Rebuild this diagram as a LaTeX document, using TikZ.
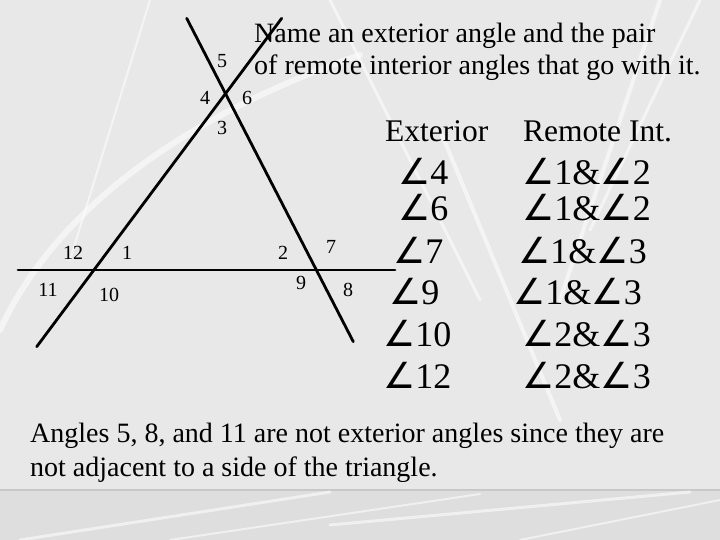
\documentclass[tikz,border=0pt]{standalone}
\usepackage{fontspec}
\setmainfont{Liberation Serif}
\newfontfamily\slidefont{Liberation Serif}
\newfontfamily\angfont{DejaVu Sans}
\usepackage{xcolor}
\usepackage{tikz}

\newcommand{\ang}{{\angfont\char"2220}}

\begin{document}
\begin{tikzpicture}[x=1pt,y=-1pt,
  lbl/.style={font=\slidefont\fontsize{20}{24}\selectfont,inner sep=0pt},
  txt/.style={font=\slidefont\fontsize{28}{32}\selectfont,inner sep=0pt,anchor=base west},
  colhead/.style={font=\slidefont\fontsize{31.5}{36}\selectfont,inner sep=0pt,anchor=base west},
  angtxt/.style={font=\slidefont\fontsize{36}{40}\selectfont,inner sep=0pt,anchor=base west},
  streak/.style={white,opacity=0.55,line cap=round},
  trans/.style={line width=2.8pt,line cap=round}]
% Define colors
\definecolor{slidebg}{RGB}{232,232,232}
\definecolor{bandbg}{RGB}{222,222,222}
\definecolor{bandline}{RGB}{200,200,200}

% Slide background
\fill[slidebg] (0,0) rectangle (720,540);
\useasboundingbox (0,0) rectangle (720,540);
\draw[streak,line width=6pt] (0,330) .. controls (60,200) and (200,110) .. (360,55);
\draw[streak,line width=3pt] (330,0) -- (480,300);
\draw[streak,line width=4pt] (440,130) -- (560,420);
\draw[streak,line width=4pt] (560,300) -- (660,0);
\draw[streak,line width=3pt] (700,0) -- (590,230);
\draw[streak,line width=2pt] (150,0) -- (70,260);

% Bottom band
\fill[bandbg] (0,490) rectangle (720,540);
\draw[bandline,line width=2pt] (0,490) -- (720,490);
\draw[streak,line width=3pt] (20,540) -- (330,492);
\draw[streak,line width=2pt] (170,540) -- (480,494);
\draw[streak,line width=3pt] (330,525) -- (690,492);
\draw[streak,line width=2pt] (520,540) -- (720,500);

% Transversals and base line
\coordinate (aTop) at (281.7,18.3);
\coordinate (aBot) at (36.7,346.7);
\coordinate (bTop) at (186.7,18.3);
\coordinate (bBot) at (353.3,341.7);
\coordinate (hLeft) at (18,270);
\coordinate (hRight) at (395,270);
\draw[trans] (aTop) -- (aBot);
\draw[trans] (bTop) -- (bBot);
\draw[trans] (hLeft) -- (hRight);

% Angle numbers
\node[lbl] (n5) at (222,61) {5};
\node[lbl] (n4) at (205,98) {4};
\node[lbl] (n6) at (247,98) {6};
\node[lbl] (n3) at (222,128) {3};
\node[lbl] (n12) at (73,253) {12};
\node[lbl] (n1) at (127,253) {1};
\node[lbl] (n11) at (48,290) {11};
\node[lbl] (n10) at (109,295) {10};
\node[lbl] (n2) at (283,253) {2};
\node[lbl] (n7) at (331,247) {7};
\node[lbl] (n9) at (301,283) {9};
\node[lbl] (n8) at (348,290) {8};

% Question
\node[txt] (ask1) at (254,43) {Name an exterior angle and the pair};
\node[txt] (ask2) at (254,75) {of remote interior angles that go with it.};

% Table
\node[colhead] (exthead) at (385,142) {Exterior};
\node[colhead] (remhead) at (523,142) {Remote Int.};

\node[angtxt] (ext4) at (398,185) {\ang4};
\node[angtxt] (ext6) at (398,221) {\ang6};
\node[angtxt] (ext7) at (393,263) {\ang7};
\node[angtxt] (ext9) at (389,304) {\ang9};
\node[angtxt] (ext10) at (383,346) {\ang10};
\node[angtxt] (ext12) at (383,388) {\ang12};

\node[angtxt] (rem4) at (522,185) {\ang1\&\ang2};
\node[angtxt] (rem6) at (522,221) {\ang1\&\ang2};
\node[angtxt] (rem7) at (518,263) {\ang1\&\ang3};
\node[angtxt] (rem9) at (513,304) {\ang1\&\ang3};
\node[angtxt] (rem10) at (522,346) {\ang2\&\ang3};
\node[angtxt] (rem12) at (522,388) {\ang2\&\ang3};

% Note
\node[txt] (note1) at (30,442) {Angles 5, 8, and 11 are not exterior angles since they are};
\node[txt] (note2) at (30,476) {not adjacent to a side of the triangle.};

\end{tikzpicture}
\end{document}
